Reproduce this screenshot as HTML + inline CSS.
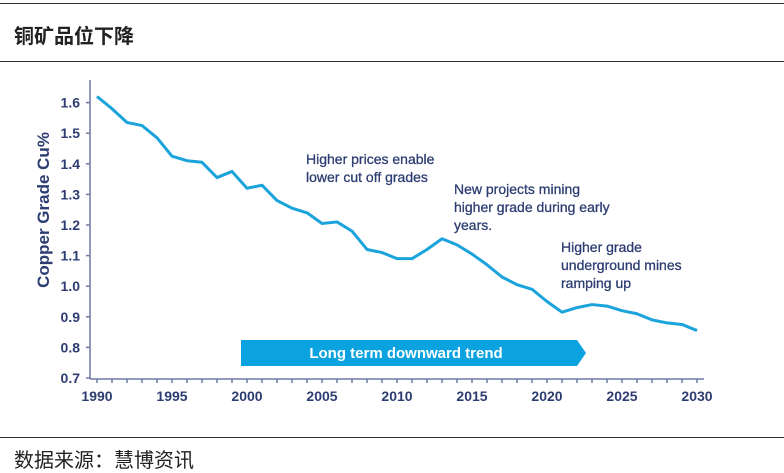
<!DOCTYPE html>
<html><head><meta charset="utf-8"><style>
body{margin:0;width:784px;height:471px;background:#fff;overflow:hidden;font-family:"Liberation Sans","Noto Sans CJK SC",sans-serif}
.hl{position:absolute;left:0;width:784px;height:1px;background:#333}
</style></head><body>
<div class="hl" style="top:3px"></div>
<div style="position:absolute;left:14px;top:20px;font-size:20px;font-weight:bold;color:#222">铜矿品位下降</div>
<div class="hl" style="top:61px"></div>
<div class="hl" style="top:437px"></div>
<div style="position:absolute;left:14px;top:444px;font-size:20px;color:#222">数据来源：慧博资讯</div>
<svg id="c" width="784" height="471" style="position:absolute;left:0;top:0" font-family="Liberation Sans, sans-serif"></svg>
<script>
const years=[1990,1991,1992,1993,1994,1995,1996,1997,1998,1999,2000,2001,2002,2003,2004,2005,2006,2007,2008,2009,2010,2011,2012,2013,2014,2015,2016,2017,2018,2019,2020,2021,2022,2023,2024,2025,2026,2027,2028,2029,2030];
const grades=[1.62,1.58,1.535,1.525,1.485,1.425,1.41,1.405,1.355,1.375,1.32,1.33,1.28,1.255,1.24,1.205,1.21,1.18,1.12,1.11,1.09,1.09,1.12,1.155,1.135,1.105,1.07,1.03,1.005,0.99,0.95,0.915,0.93,0.94,0.935,0.92,0.91,0.89,0.88,0.875,0.855];
const yTicks=[0.7,0.8,0.9,1.0,1.1,1.2,1.3,1.4,1.5,1.6];
const xTickLabels=[1990,1995,2000,2005,2010,2015,2020,2025,2030];
const X=y=>97+(y-1990)*15;
const Y=v=>378-(v-0.7)*306;
const svg=document.getElementById('c');const NS='http://www.w3.org/2000/svg';
function mk(t,a,p){const e=document.createElementNS(NS,t);for(const k in a)e.setAttribute(k,a[k]);(p||svg).appendChild(e);return e;}
const navy='#2d3d72';
let e;
e=mk('line',{x1:90,y1:80,x2:90,y2:379,stroke:'#6b7aa6','stroke-width':1.5});


e=mk('line',{x1:90,y1:379,x2:704,y2:379,stroke:'#6b7aa6','stroke-width':1.5});


yTicks.forEach(v=>{
 mk('line',{x1:86,y1:Y(v),x2:90,y2:Y(v),stroke:'#6b7aa6','stroke-width':1.5});
 e=mk('text',{x:80,y:Y(v)+5,'text-anchor':'end','font-size':14,'font-weight':'bold',fill:navy});e.textContent=v.toFixed(1);
 
 
});
years.forEach(y=>mk('line',{x1:X(y),y1:379,x2:X(y),y2:383,stroke:'#6b7aa6','stroke-width':1.5}));
xTickLabels.forEach(y=>{
 e=mk('text',{x:X(y),y:401,'text-anchor':'middle','font-size':14,'font-weight':'bold',fill:navy});e.textContent=y;
 
 
});
e=mk('text',{transform:'translate(49,210) rotate(-90)','text-anchor':'middle','font-size':17,'font-weight':'bold',fill:navy});e.textContent='Copper Grade Cu%';


e=mk('polyline',{points:years.map((y,i)=>X(y)+','+Y(grades[i])).join(' '),fill:'none',stroke:'#1ba3dc','stroke-width':3,'stroke-linejoin':'round'});


e=mk('polygon',{points:'241,340 577,340 586,353 577,366 241,366',fill:'#0aa3e0'});


e=mk('text',{x:406,y:358,'text-anchor':'middle','font-size':15,'font-weight':'bold',fill:'#fff'});e.textContent='Long term downward trend';


function ann(name,x,y,lines){lines.forEach((l,i)=>{e=mk('text',{x:x,y:y+i*18,'font-size':14,fill:navy,stroke:navy,'stroke-width':0.3});e.textContent=l;
 
 });}
ann('annotation-higher-prices',306,164,['Higher prices enable','lower cut off grades']);
ann('annotation-new-projects',454,194,['New projects mining','higher grade during early','years.']);
ann('annotation-underground',561,252,['Higher grade','underground mines','ramping up']);
</script>
</body></html>
